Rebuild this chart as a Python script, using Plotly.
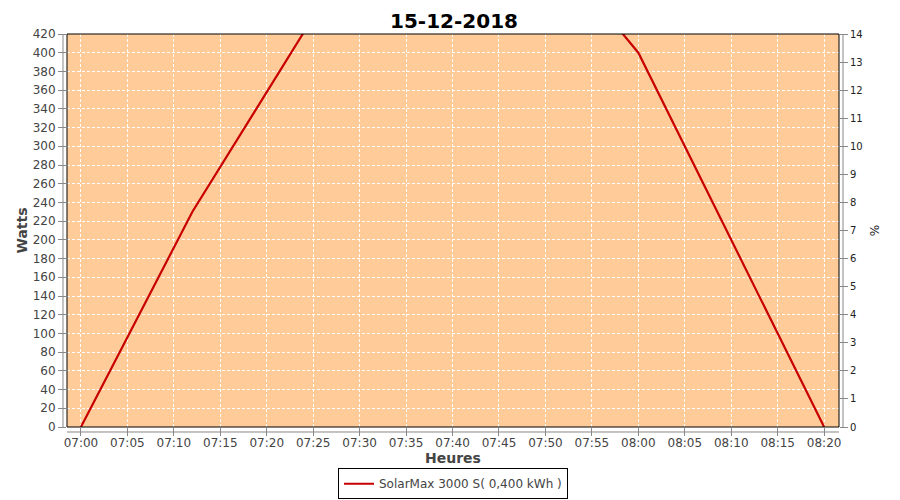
import plotly.graph_objects as go

times = ["2018-12-15 07:00", "2018-12-15 07:12", "2018-12-15 07:30", "2018-12-15 07:40",
         "2018-12-15 07:50", "2018-12-15 07:54", "2018-12-15 08:00", "2018-12-15 08:20"]
watts = [0, 230, 518, 560, 520, 472, 400, 0]
x_ticks = ["2018-12-15 07:%02d" % m for m in range(0, 60, 5)] + ["2018-12-15 08:%02d" % m for m in range(0, 25, 5)]
x_labels = ["07:%02d" % m for m in range(0, 60, 5)] + ["08:%02d" % m for m in range(0, 25, 5)]
legend_name = "SolarMax 3000 S( 0,400 kWh )"

fig = go.Figure()
fig.add_trace(go.Scatter(x=times, y=watts, mode="lines", name=legend_name,
                         line=dict(color="#C80000", width=2.2)))
fig.add_trace(go.Scatter(x=[], y=[], yaxis="y2", showlegend=False, hoverinfo="skip"))

font = "DejaVu Sans, Arial, sans-serif"
grid = dict(showgrid=True, gridcolor="white", griddash="3px,2px", gridwidth=1)
fig.update_layout(
    width=892, height=492,
    margin=dict(l=59, r=61, t=26, b=73, autoexpand=False),
    paper_bgcolor="white", plot_bgcolor="#FFCC99",
    font=dict(family=font, size=12, color="#444444"),
    title=dict(text="<b>15-12-2018</b>", x=0.5, xanchor="center", y=0.988, yanchor="top",
               pad=dict(t=0, b=0),
               font=dict(size=20, color="black", family=font)),
    xaxis=dict(range=["2018-12-15 06:58:30", "2018-12-15 08:21:36"],
               tickvals=x_ticks, ticktext=x_labels, automargin=False,
               ticks="outside", ticklen=8, tickcolor="#888888", ticklabelstandoff=-3,
               tickfont=dict(size=12, color="#444444"),
               title=dict(text="<b>Heures</b>", font=dict(size=14, color="#444444"), standoff=2),
               showline=False, zeroline=False, **grid),
    yaxis=dict(range=[0, 420], dtick=20, tick0=0, automargin=False,
               ticks="outside", ticklen=8, tickcolor="#888888",
               tickfont=dict(size=12, color="#444444"),
               title=dict(text="<b>Watts</b>", font=dict(size=14, color="#444444"), standoff=1),
               showline=False, zeroline=False, **grid),
    yaxis2=dict(range=[0, 14], dtick=1, tick0=0, overlaying="y", side="right", automargin=False,
                showgrid=False, ticks="outside", ticklen=8, tickcolor="#888888",
                tickfont=dict(size=10, color="#222222"),
                title=dict(text="%", font=dict(size=12, color="#222222"), standoff=8),
                showline=False, zeroline=False),
    legend=dict(orientation="h", x=0.5, xanchor="center", y=-0.105, yanchor="top",
                bordercolor="black", borderwidth=1, bgcolor="white",
                font=dict(size=12, color="#444444"), itemwidth=30),
    showlegend=True,
    shapes=[
        dict(type="rect", xref="paper", yref="paper", x0=0, x1=1, y0=0, y1=1,
             line=dict(color="black", width=1), layer="above"),
        dict(type="line", xref="paper", yref="paper", x0=-0.0052, x1=-0.0052, y0=0, y1=1,
             line=dict(color="#888888", width=1)),
        dict(type="line", xref="paper", yref="paper", x0=1.0052, x1=1.0052, y0=0, y1=1,
             line=dict(color="#888888", width=1)),
        dict(type="line", xref="paper", yref="paper", x0=0, x1=1, y0=-0.0127, y1=-0.0127,
             line=dict(color="#888888", width=1)),
    ],
)

fig.write_html("out.html")
